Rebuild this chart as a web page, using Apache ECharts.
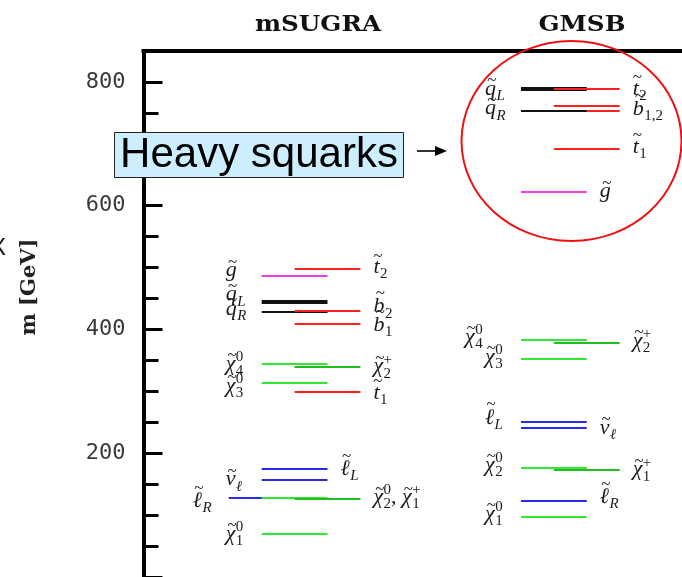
<!DOCTYPE html>
<html>
<head>
<meta charset="utf-8">
<script src="https://cdn.jsdelivr.net/npm/echarts@6/dist/echarts.min.js"></script>
<style>
  html, body { margin: 0; padding: 0; background: #fff; }
  #chart { width: 682px; height: 577px; }
</style>
</head>
<body>
<div id="chart"></div>
<script>
// Sparticle mass spectra (GeV) for two SUSY-breaking scenarios.
const schemes = ['mSUGRA', 'GMSB'];
const massTickLabels = [200, 400, 600, 800];

// mSUGRA: state, mass, column (0 = far left, 1 = left, 2 = right)
const sugraStates = ['gluino', 'stop2', 'sqL', 'sqL', 'sqR', 'sbot2', 'sbot1', 'chi04', 'chip2', 'chi03', 'stop1', 'selL', 'snu', 'selR', 'chi02', 'chip1', 'chi01'];
const sugraMass   = [487, 497, 446.6, 442.2, 429, 430.5, 408.5, 343.7, 339.9, 313.2, 299.2, 173.9, 157.3, 127.3, 128.4, 126.8, 69.9];
const sugraColumn = [1, 2, 1, 1, 1, 2, 2, 1, 2, 1, 2, 1, 1, 0, 1, 2, 1];

// GMSB: state, mass, column
const gmsbStates = ['sqL', 'sqL', 'stop2', 'sbot2', 'sbot1', 'sqR', 'stop1', 'gluino', 'chi04', 'chip2', 'chi03', 'selL', 'snu', 'chi02', 'chip1', 'selR', 'chi01'];
const gmsbMass   = [790.5, 787.7, 788.9, 760.4, 752.9, 753.5, 691.8, 622.7, 382.3, 378.4, 351.8, 250.5, 240.9, 175.5, 173.4, 123.6, 96.7];
const gmsbColumn = [1, 1, 2, 2, 2, 1, 2, 1, 1, 2, 1, 1, 1, 1, 2, 1, 1];

// Math symbols of the states: base glyph, subscript, superscript
const symbols = {
  gluino: { b: 'g' },
  sqL:    { b: 'q', sub: 'L' },
  sqR:    { b: 'q', sub: 'R' },
  stop1:  { b: 't', sub: '1' },
  stop2:  { b: 't', sub: '2' },
  sbot1:  { b: 'b', sub: '1' },
  sbot2:  { b: 'b', sub: '2' },
  sbot12: { b: 'b', sub: '1,2' },
  chi01:  { b: 'χ', sup: '0', sub: '1' },
  chi02:  { b: 'χ', sup: '0', sub: '2' },
  chi03:  { b: 'χ', sup: '0', sub: '3' },
  chi04:  { b: 'χ', sup: '0', sub: '4' },
  chip1:  { b: 'χ', sup: '+', sub: '1' },
  chip2:  { b: 'χ', sup: '+', sub: '2' },
  selL:   { b: 'ℓ', sub: 'L' },
  selR:   { b: 'ℓ', sub: 'R' },
  snu:    { b: 'ν', sub: 'ℓ' }
};

// Label placement: line index, side, vertical nudge (px), extra horizontal shift, symbols
const sugraLabels = [
  { i: 0,  side: 'L', dy: -5, parts: ['gluino'] },
  { i: 1,  side: 'R', dy: -2, parts: ['stop2'] },
  { i: 2,  side: 'L', dy: -6, parts: ['sqL'] },
  { i: 4,  side: 'L', dy: -2, parts: ['sqR'] },
  { i: 5,  side: 'R', dy: -4, parts: ['sbot2'] },
  { i: 6,  side: 'R', dy: 1,  parts: ['sbot1'] },
  { i: 7,  side: 'L', dy: 0,  parts: ['chi04'] },
  { i: 8,  side: 'R', dy: 0,  parts: ['chip2'] },
  { i: 9,  side: 'L', dy: 3,  parts: ['chi03'] },
  { i: 10, side: 'R', dy: 1,  parts: ['stop1'] },
  { i: 11, side: 'R', dy: 0,  parts: ['selL'] },
  { i: 12, side: 'L', dy: 0,  parts: ['snu'] },
  { i: 13, side: 'L', dy: 3,  parts: ['selR'] },
  { i: 15, side: 'R', dy: -1, parts: ['chi02', 'chip1'] },
  { i: 16, side: 'L', dy: 0,  parts: ['chi01'] }
];
const gmsbLabels = [
  { i: 0,  side: 'L', dy: 1,  parts: ['sqL'] },
  { i: 5,  side: 'L', dy: -2, parts: ['sqR'] },
  { i: 2,  side: 'R', dy: 0,  parts: ['stop2'] },
  { i: 3,  side: 'R', dy: 3,  parts: ['sbot12'] },
  { i: 6,  side: 'R', dy: -2, parts: ['stop1'] },
  { i: 7,  side: 'R', dy: 0,  parts: ['gluino'] },
  { i: 8,  side: 'L', dy: -3, dx: -20, parts: ['chi04'] },
  { i: 9,  side: 'R', dy: -2, parts: ['chip2'] },
  { i: 10, side: 'L', dy: -2, parts: ['chi03'] },
  { i: 11, side: 'L', dy: -4, parts: ['selL'] },
  { i: 12, side: 'R', dy: 0,  parts: ['snu'] },
  { i: 13, side: 'L', dy: -3, parts: ['chi02'] },
  { i: 14, side: 'R', dy: 0,  parts: ['chip1'] },
  { i: 15, side: 'R', dy: -3, parts: ['selR'] },
  { i: 16, side: 'L', dy: -3, parts: ['chi01'] }
];

// Line colour per particle family
const familyColor = {
  sqL: '#111111', sqR: '#111111',
  gluino: '#ee3cee',
  stop1: '#ff2020', stop2: '#ff2020', sbot1: '#ff2020', sbot2: '#ff2020',
  chi01: '#33e833', chi02: '#33e833', chi03: '#33e833', chi04: '#33e833',
  chip1: '#1fbf1f', chip2: '#1fbf1f',
  selL: '#2a2aee', selR: '#2a2aee', snu: '#2a2aee'
};

// Horizontal layout: one column unit = 33 px, line length = 2 units
const X_MIN = -3.591;
const X_MAX = X_MIN + 540 / 33;
const schemeOffset = { mSUGRA: 0, GMSB: 7.879 };

const LABEL_COLOR = '#1c1c1c';
const FAMILY = '"Liberation Serif", "DejaVu Serif", serif';

// Flatten the two spectra into rows for the custom series
const rows = [];
function addScheme(name, states, masses, cols, labels) {
  const start = rows.length;
  states.forEach((s, k) => {
    rows.push({ x: schemeOffset[name] + cols[k], m: masses[k], color: familyColor[s], label: null });
  });
  labels.forEach(l => { rows[start + l.i].label = l; });
}
addScheme('mSUGRA', sugraStates, sugraMass, sugraColumn, sugraLabels);
addScheme('GMSB', gmsbStates, gmsbMass, gmsbColumn, gmsbLabels);

// Text measuring
const mctx = document.createElement('canvas').getContext('2d');
function fontStr(f) { return (f.style || 'normal') + ' ' + (f.weight || 'normal') + ' ' + f.size + 'px ' + FAMILY; }
function textWidth(t, f) { mctx.font = fontStr(f); return mctx.measureText(t).width; }

const F_BASE = { size: 22, style: 'italic' };
const F_SEP = { size: 22 };
const F_TILDE = { size: 17 };
const F_SCRIPT = { size: 15 };
const F_SCRIPT_IT = { size: 15, style: 'italic' };
const tildeRise = { b: 13, 'ℓ': 13, t: 11 };

function txt(t, x, y, f, align) {
  return {
    type: 'text', x: x, y: y, silent: true,
    style: {
      text: t, fill: LABEL_COLOR, fontSize: f.size, fontFamily: FAMILY,
      fontStyle: f.style || 'normal', fontWeight: f.weight || 'normal',
      align: align || 'left', verticalAlign: 'middle'
    }
  };
}
function scriptFont(t) { return /^[A-Zℓ]$/.test(t) ? F_SCRIPT_IT : F_SCRIPT; }

function buildLabel(parts, x0, y) {
  const els = [];
  let x = x0;
  parts.forEach((id, k) => {
    if (k > 0) { els.push(txt(', ', x, y, F_SEP)); x += textWidth(', ', F_SEP); }
    const s = symbols[id];
    const bw = textWidth(s.b, F_BASE);
    els.push(txt(s.b, x, y, F_BASE));
    els.push(txt('~', x + bw / 2 + 1.5, y - (tildeRise[s.b] || 8.5), F_TILDE, 'center'));
    const sx = x + bw + 0.5;
    let sw = 0;
    const stacked = s.sub && s.sup;
    if (s.sup) {
      const f = scriptFont(s.sup);
      els.push(txt(s.sup, sx, y - (stacked ? 7 : 6), f));
      sw = Math.max(sw, textWidth(s.sup, f));
    }
    if (s.sub) {
      const f = scriptFont(s.sub);
      els.push(txt(s.sub, sx, y + 7, f));
      sw = Math.max(sw, textWidth(s.sub, f));
    }
    x = sx + sw;
  });
  return els;
}

const chart = echarts.init(document.getElementById('chart'), null, { renderer: 'canvas' });

chart.setOption({
  animation: false,
  backgroundColor: '#ffffff',
  grid: { left: 143.5, top: 51, width: 540, height: 529 },
  xAxis: {
    type: 'value', position: 'top', min: X_MIN, max: X_MAX,
    axisLine: { show: true, onZero: false, lineStyle: { color: '#000', width: 4, cap: 'square' } },
    axisTick: { show: false }, axisLabel: { show: false }, splitLine: { show: false }
  },
  yAxis: [
    {
      type: 'value', min: 0, max: 850, interval: 200, position: 'left',
      axisLine: { show: true, onZero: false, lineStyle: { color: '#000', width: 4, cap: 'square' } },
      axisTick: { show: true, inside: true, length: 19, lineStyle: { color: '#000', width: 3 } },
      axisLabel: {
        margin: 18, color: '#3a3a3a', fontSize: 22, fontFamily: '"DejaVu Sans Mono", monospace',
        formatter: v => (massTickLabels.indexOf(v) >= 0 ? String(v) : '')
      },
      splitLine: { show: false }
    },
    {
      type: 'value', min: 0, max: 850, interval: 50, position: 'left',
      axisLine: { show: false, onZero: false },
      axisTick: { show: true, inside: true, length: 15, lineStyle: { color: '#000', width: 3 } },
      axisLabel: { show: false }, splitLine: { show: false }
    }
  ],
  series: [{
    type: 'custom',
    clip: false,
    xAxisIndex: 0, yAxisIndex: 0,
    data: rows.map(r => [r.x, r.m]),
    renderItem: function (params, api) {
      const r = rows[params.dataIndex];
      const p = api.coord([api.value(0), api.value(1)]);
      const half = api.size([1, 0])[0];
      const y = Math.round(p[1]);
      const x1 = p[0] - half, x2 = p[0] + half;
      const children = [{
        type: 'line', silent: true,
        shape: { x1: x1, y1: y, x2: x2, y2: y },
        style: { stroke: r.color, lineWidth: 2 }
      }];
      if (r.label) {
        const l = r.label;
        const lx = (l.side === 'R' ? x2 + 13 : x1 - 36) + (l.dx || 0);
        buildLabel(l.parts, lx, p[1] + l.dy).forEach(e => children.push(e));
      }
      return { type: 'group', children: children };
    }
  }],
  graphic: [
    // scheme headings
    { type: 'text', x: 318, y: 25, z: 10, scaleX: 1.12,
      style: { text: schemes[0], fill: '#111', fontSize: 22, fontWeight: 'bold', fontFamily: '"DejaVu Serif", serif', align: 'center', verticalAlign: 'middle' } },
    { type: 'text', x: 582, y: 25, z: 10, scaleX: 1.12,
      style: { text: schemes[1], fill: '#111', fontSize: 22, fontWeight: 'bold', fontFamily: '"DejaVu Serif", serif', align: 'center', verticalAlign: 'middle' } },
    // axis title
    { type: 'text', x: 30, y: 287, rotation: Math.PI / 2, z: 10,
      style: { text: 'm [GeV]', fill: '#222', fontSize: 21, fontWeight: 'bold', fontFamily: '"DejaVu Serif", serif', align: 'center', verticalAlign: 'middle' } },
    { type: 'text', x: -2, y: 248, z: 10,
      style: { text: 'X', fill: '#111', fontSize: 24, fontFamily: '"Liberation Sans", sans-serif', align: 'center', verticalAlign: 'middle' } },
    // callout
    { type: 'rect', z: 20, shape: { x: 114.5, y: 132.5, width: 289, height: 45 },
      style: { fill: '#cdeeff', stroke: '#222', lineWidth: 1 } },
    { type: 'text', x: 259, y: 155, z: 21,
      style: { text: 'Heavy squarks', fill: '#000', fontSize: 42, fontFamily: '"Liberation Sans", Arial, sans-serif', align: 'center', verticalAlign: 'middle' } },
    { type: 'line', z: 20, shape: { x1: 417, y1: 151, x2: 437, y2: 151 }, style: { stroke: '#000', lineWidth: 1.6 } },
    { type: 'polygon', z: 20, shape: { points: [[435, 146], [447, 151], [435, 156]] }, style: { fill: '#000' } },
    { type: 'ellipse', z: 20, shape: { cx: 571.5, cy: 141, rx: 110, ry: 100 },
      style: { fill: 'none', stroke: '#ee1111', lineWidth: 2 } }
  ]
});
</script>
</body>
</html>
